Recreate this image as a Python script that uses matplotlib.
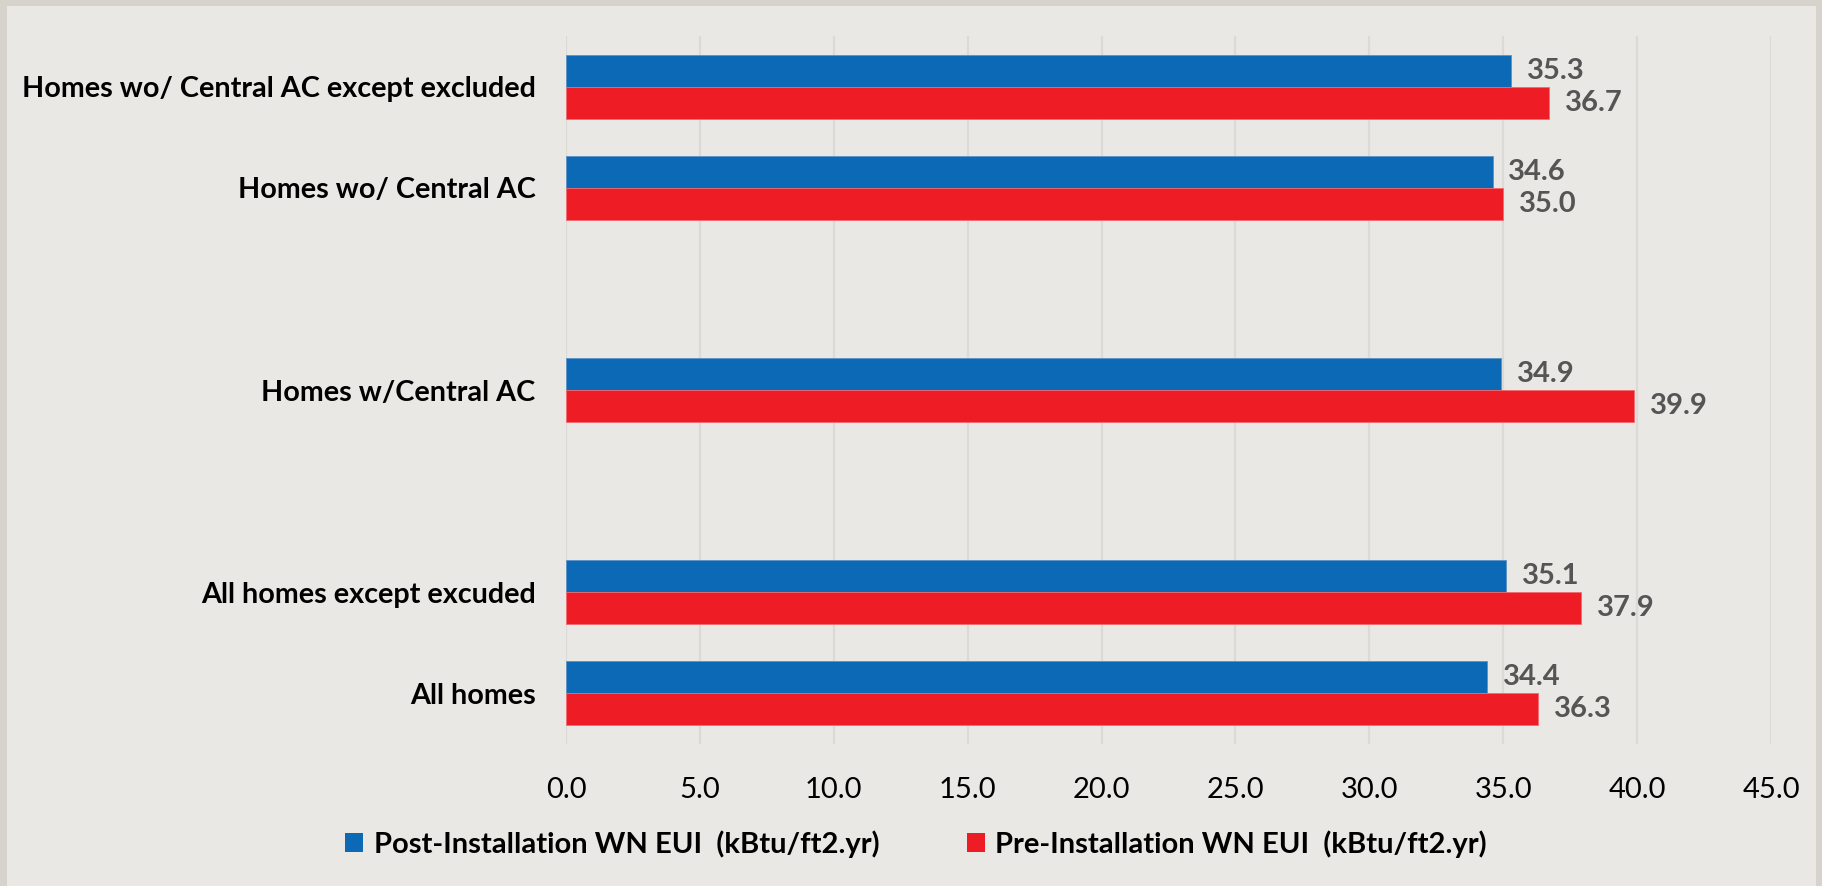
import numpy as np
import matplotlib
matplotlib.use("Agg")
import matplotlib.pyplot as plt
from matplotlib.patches import Rectangle, Patch

plt.rcParams['font.family'] = ['Lato', 'DejaVu Sans']

# Data (bottom to top, blank slots as in the original chart)
categories = ["All homes", "All homes except excuded", "", "Homes w/Central AC", "",
              "Homes wo/ Central AC", "Homes wo/ Central AC except excluded"]
post_values = [34.4, 35.1, np.nan, 34.9, np.nan, 34.6, 35.3]
pre_values = [36.3, 37.9, np.nan, 39.9, np.nan, 35.0, 36.7]
series_names = ["Post-Installation WN EUI  (kBtu/ft2.yr)", "Pre-Installation WN EUI  (kBtu/ft2.yr)"]
xticks = [0, 5, 10, 15, 20, 25, 30, 35, 40, 45]

BLUE = "#0B69B5"
RED = "#ED1C25"
BG = "#EAE8E4"
OUTER = "#D6D2CC"
GRID = "#DCDAD6"

W, H = 1822, 886
fig = plt.figure(figsize=(W / 100, H / 100), dpi=100, facecolor=OUTER)
fig.patches.append(Rectangle((7 / W, 0), (1816 - 7) / W, 1 - 6 / H,
                             transform=fig.transFigure, facecolor=BG,
                             edgecolor='none', zorder=-10))

ax = fig.add_axes([566 / W, 1 - 744 / H, (1771 - 566) / W, (744 - 36) / H])
ax.set_facecolor('none')

y = np.arange(len(categories))
bh = 0.316
post_bars = ax.barh(y + bh / 2, post_values, height=bh, color=BLUE,
                    edgecolor='#5a93c8', linewidth=0.6, label=series_names[0], zorder=3)
pre_bars = ax.barh(y - bh / 2, pre_values, height=bh, color=RED,
                   edgecolor='#f06a70', linewidth=0.6, label=series_names[1], zorder=3)

for bars, vals in ((post_bars, post_values), (pre_bars, pre_values)):
    for b, v in zip(bars, vals):
        if np.isnan(v):
            continue
        ax.annotate(f"{v:.1f}", xy=(v, b.get_y() + b.get_height() / 2),
                    xytext=(11.5, 0), textcoords='offset points',
                    ha='left', va='center', fontsize=21, fontweight='bold',
                    color='#555555')

ax.set_xlim(0, 45)
ax.set_ylim(-0.5, len(categories) - 0.5)
ax.set_xticks(xticks)
ax.set_xticklabels([f"{t:.1f}" for t in xticks], fontsize=21, color='black')
ax.set_yticks(y)
ax.set_yticklabels(categories, fontsize=20.7, fontweight='bold', color='black')
ax.tick_params(axis='x', length=0, pad=24)
ax.tick_params(axis='y', length=0, pad=22)
ax.grid(axis='x', color=GRID, linewidth=1.6, zorder=0)
ax.set_axisbelow(True)
for s in ax.spines.values():
    s.set_visible(False)

handles = [Patch(facecolor=BLUE, edgecolor='none'), Patch(facecolor=RED, edgecolor='none')]
leg = fig.legend(handles, series_names, loc='center', bbox_to_anchor=(916 / W, 1 - 844 / H),
                 ncol=2, frameon=False, prop={'size': 21, 'weight': 'bold'},
                 handlelength=0.62, handleheight=0.62, handletextpad=0.35,
                 columnspacing=3.0)

fig.savefig("out.png", dpi=100, facecolor=OUTER)
